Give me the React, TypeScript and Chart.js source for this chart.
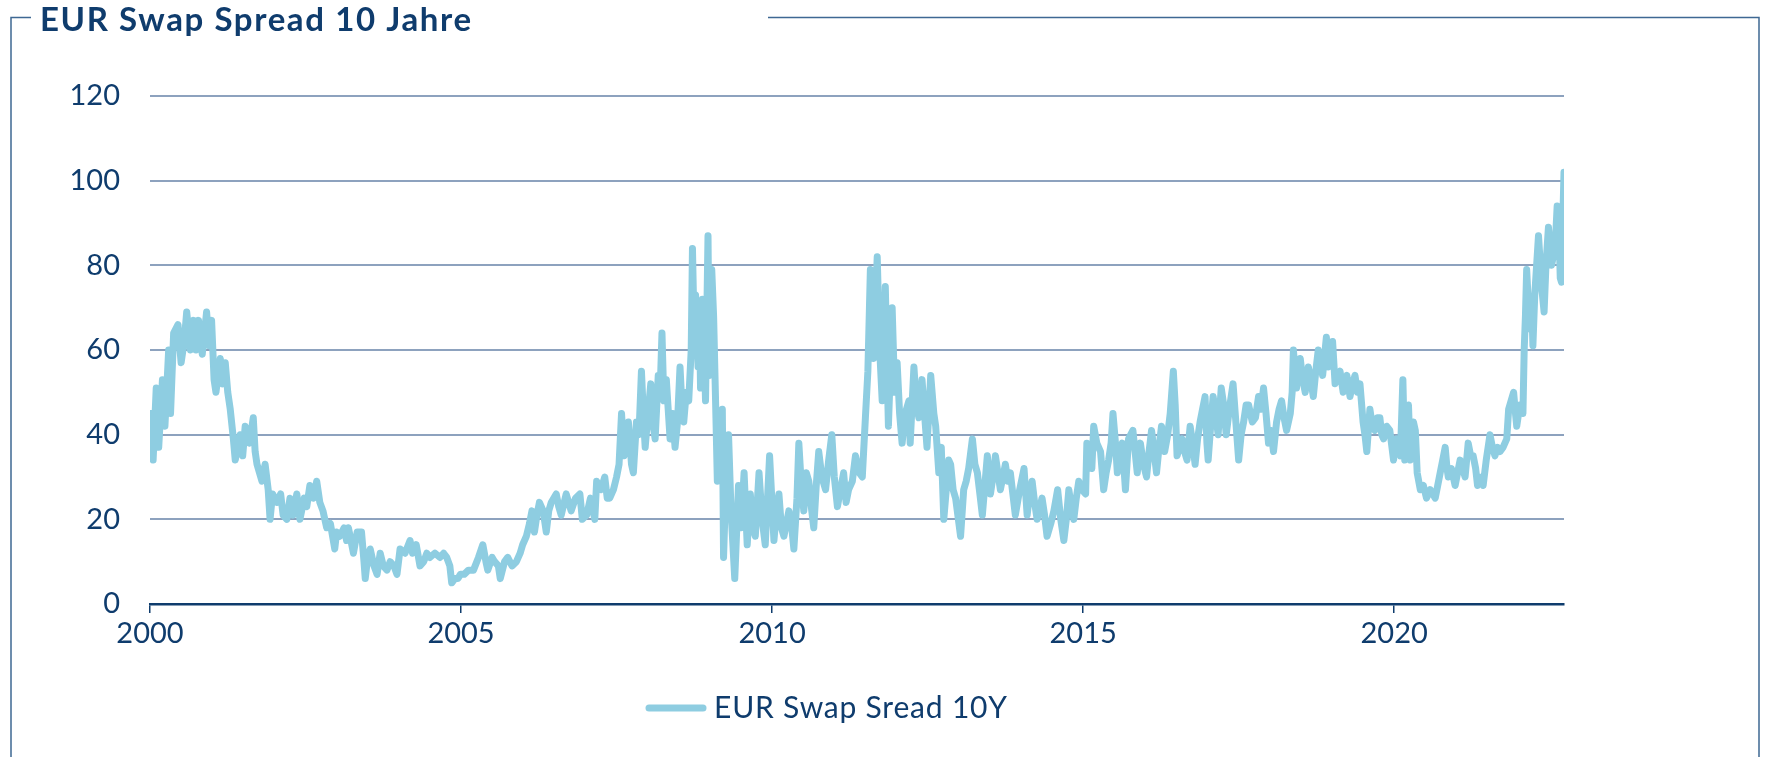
import { useEffect, useRef } from 'react';
import { Chart, registerables } from 'chart.js';

Chart.register(...registerables);

const TITLE = 'EUR Swap Spread 10 Jahre';
const SERIES_LABEL = 'EUR Swap Sread 10Y';
const xTickYears = [2000, 2005, 2010, 2015, 2020];
const yTickValues = [0, 20, 40, 60, 80, 100, 120];
const X_MIN = 2000;
const X_MAX = 2022.73;

// [decimal year, spread in bp]
const seg2000_2004: [number, number][] = [
  [2000.0, 35], [2000.02, 45], [2000.05, 34], [2000.1, 51], [2000.14, 37], [2000.2, 53], [2000.24, 42], [2000.3, 60],
  [2000.33, 45], [2000.38, 64], [2000.45, 66], [2000.5, 57], [2000.55, 62], [2000.59, 69], [2000.65, 60], [2000.7, 67],
  [2000.74, 60], [2000.78, 67], [2000.84, 59], [2000.91, 69], [2000.95, 61], [2000.99, 67],
  [2001.03, 53], [2001.06, 50], [2001.13, 58], [2001.17, 52], [2001.21, 57], [2001.25, 50], [2001.29, 46], [2001.34, 39],
  [2001.37, 34], [2001.4, 36], [2001.45, 40], [2001.49, 35], [2001.53, 42], [2001.6, 38], [2001.66, 44], [2001.69, 36],
  [2001.72, 33], [2001.76, 31], [2001.8, 29], [2001.85, 33], [2001.9, 27], [2001.93, 20], [2001.97, 26],
  [2002.04, 24], [2002.1, 26], [2002.14, 21], [2002.2, 20], [2002.25, 25], [2002.3, 21], [2002.36, 26], [2002.41, 20],
  [2002.48, 25], [2002.52, 23], [2002.57, 28], [2002.63, 25], [2002.68, 29], [2002.73, 24], [2002.78, 22], [2002.84, 18],
  [2002.9, 19], [2002.97, 13],
  [2003.0, 17], [2003.05, 16], [2003.12, 18], [2003.16, 15], [2003.19, 18], [2003.23, 15], [2003.27, 12], [2003.33, 17],
  [2003.4, 17], [2003.44, 10], [2003.46, 6], [2003.5, 11], [2003.54, 13], [2003.6, 9], [2003.65, 7], [2003.7, 12],
  [2003.75, 9], [2003.81, 8], [2003.86, 10], [2003.92, 9], [2003.97, 7],
  [2004.02, 13], [2004.1, 12], [2004.18, 15], [2004.22, 12], [2004.28, 14], [2004.34, 9], [2004.4, 10], [2004.45, 12],
  [2004.5, 11], [2004.58, 12], [2004.66, 11], [2004.72, 12], [2004.77, 11], [2004.82, 9], [2004.85, 5], [2004.9, 6],
  [2004.95, 6], [2004.99, 7],
];

const seg2005_2009: [number, number][] = [
  [2005.05, 7], [2005.12, 8], [2005.2, 8], [2005.28, 11], [2005.35, 14], [2005.4, 10], [2005.43, 8], [2005.5, 11],
  [2005.54, 10], [2005.6, 9], [2005.63, 6], [2005.7, 10], [2005.75, 11], [2005.82, 9], [2005.89, 10], [2005.95, 12],
  [2005.99, 14],
  [2006.05, 16], [2006.1, 19], [2006.14, 22], [2006.18, 17], [2006.22, 21], [2006.26, 24], [2006.32, 22], [2006.37, 17],
  [2006.41, 22], [2006.45, 24], [2006.53, 26], [2006.57, 23], [2006.61, 21], [2006.69, 26], [2006.73, 24], [2006.77, 22],
  [2006.84, 25], [2006.91, 26], [2006.95, 20],
  [2007.02, 21], [2007.08, 25], [2007.15, 20], [2007.18, 29], [2007.25, 27], [2007.31, 30], [2007.35, 25], [2007.39, 25],
  [2007.45, 27], [2007.5, 30], [2007.54, 33], [2007.58, 45], [2007.62, 35], [2007.66, 40], [2007.69, 43], [2007.74, 33],
  [2007.77, 31], [2007.82, 43], [2007.86, 40], [2007.9, 55], [2007.93, 45], [2007.96, 37],
  [2008.0, 44], [2008.05, 52], [2008.09, 42], [2008.12, 39], [2008.17, 54], [2008.2, 50], [2008.23, 64], [2008.26, 48],
  [2008.3, 53], [2008.33, 46], [2008.36, 39], [2008.4, 45], [2008.44, 37], [2008.48, 43], [2008.52, 56], [2008.55, 47],
  [2008.58, 43], [2008.62, 50], [2008.66, 48], [2008.7, 60], [2008.72, 84], [2008.75, 62], [2008.77, 73], [2008.79, 66],
  [2008.81, 56], [2008.83, 70], [2008.85, 51], [2008.88, 72], [2008.91, 60], [2008.93, 48], [2008.97, 87], [2008.99, 54],
  [2009.01, 72], [2009.03, 79], [2009.06, 68], [2009.09, 49], [2009.12, 29], [2009.16, 40], [2009.2, 46], [2009.22, 11],
  [2009.26, 30], [2009.3, 40], [2009.34, 22], [2009.4, 6], [2009.43, 17], [2009.46, 28], [2009.5, 18], [2009.55, 31],
  [2009.6, 14], [2009.65, 26], [2009.69, 18], [2009.73, 16], [2009.79, 31], [2009.84, 20], [2009.89, 14], [2009.96, 35],
];

const seg2010_2014: [number, number][] = [
  [2010.03, 15], [2010.07, 22], [2010.11, 26], [2010.15, 18], [2010.19, 16], [2010.27, 22], [2010.31, 19], [2010.35, 13],
  [2010.4, 25], [2010.43, 38], [2010.47, 28], [2010.51, 22], [2010.55, 31], [2010.59, 29], [2010.63, 23], [2010.67, 18],
  [2010.71, 28], [2010.75, 36], [2010.8, 30], [2010.86, 27], [2010.91, 34], [2010.96, 40],
  [2011.0, 30], [2011.05, 23], [2011.1, 27], [2011.15, 31], [2011.19, 24], [2011.23, 27], [2011.29, 29], [2011.34, 35],
  [2011.4, 31], [2011.45, 30], [2011.5, 44], [2011.54, 55], [2011.58, 79], [2011.61, 62], [2011.63, 58], [2011.66, 70],
  [2011.69, 82], [2011.73, 60], [2011.77, 48], [2011.8, 60], [2011.82, 75], [2011.85, 55], [2011.87, 42], [2011.9, 55],
  [2011.93, 70], [2011.97, 50],
  [2012.01, 57], [2012.05, 45], [2012.09, 38], [2012.14, 45], [2012.2, 48], [2012.22, 38], [2012.28, 56], [2012.32, 47],
  [2012.36, 44], [2012.41, 53], [2012.45, 45], [2012.49, 37], [2012.55, 54], [2012.6, 45], [2012.63, 42], [2012.68, 31],
  [2012.72, 37], [2012.76, 20], [2012.8, 27], [2012.84, 34], [2012.87, 33], [2012.91, 27], [2012.95, 25],
  [2013.03, 16], [2013.08, 27], [2013.12, 29], [2013.16, 32], [2013.22, 39], [2013.26, 33], [2013.3, 31], [2013.34, 26],
  [2013.38, 21], [2013.42, 28], [2013.46, 35], [2013.51, 26], [2013.55, 30], [2013.59, 35], [2013.63, 31], [2013.67, 27],
  [2013.75, 33], [2013.79, 29], [2013.83, 31], [2013.87, 26], [2013.91, 21], [2013.98, 27],
  [2014.05, 32], [2014.1, 21], [2014.14, 26], [2014.18, 29], [2014.22, 24], [2014.26, 20], [2014.34, 25], [2014.38, 21],
  [2014.42, 16], [2014.48, 19], [2014.53, 22], [2014.59, 27], [2014.64, 20], [2014.69, 15], [2014.73, 20], [2014.77, 27],
  [2014.81, 23], [2014.85, 20], [2014.89, 25], [2014.93, 29], [2014.98, 27],
];

const seg2015_2019: [number, number][] = [
  [2015.04, 26], [2015.06, 38], [2015.1, 34], [2015.14, 32], [2015.17, 42], [2015.22, 38], [2015.28, 36], [2015.33, 27],
  [2015.37, 31], [2015.41, 34], [2015.45, 38], [2015.48, 45], [2015.52, 38], [2015.55, 31], [2015.59, 35], [2015.63, 38],
  [2015.68, 27], [2015.73, 39], [2015.8, 41], [2015.87, 31], [2015.92, 38], [2015.97, 33],
  [2016.02, 30], [2016.06, 36], [2016.1, 41], [2016.14, 36], [2016.18, 31], [2016.22, 37], [2016.26, 42], [2016.31, 36],
  [2016.36, 40], [2016.4, 45], [2016.45, 55], [2016.48, 47], [2016.51, 35], [2016.55, 37], [2016.59, 39], [2016.63, 36],
  [2016.67, 34], [2016.72, 42], [2016.76, 38], [2016.8, 33], [2016.84, 39], [2016.88, 43], [2016.92, 46], [2016.96, 49],
  [2016.99, 38],
  [2017.01, 34], [2017.05, 42], [2017.09, 49], [2017.13, 45], [2017.17, 40], [2017.22, 51], [2017.26, 47], [2017.3, 40],
  [2017.35, 46], [2017.41, 52], [2017.45, 44], [2017.5, 34], [2017.54, 40], [2017.58, 43], [2017.62, 47], [2017.66, 47],
  [2017.72, 43], [2017.77, 44], [2017.82, 49], [2017.86, 46], [2017.9, 51], [2017.94, 45], [2017.98, 38],
  [2018.02, 41], [2018.06, 36], [2018.11, 43], [2018.15, 46], [2018.19, 48], [2018.23, 44], [2018.27, 41], [2018.33, 45],
  [2018.36, 50], [2018.38, 60], [2018.43, 51], [2018.46, 55], [2018.49, 58], [2018.53, 53], [2018.57, 50], [2018.62, 56],
  [2018.66, 53], [2018.7, 49], [2018.74, 55], [2018.78, 60], [2018.82, 57], [2018.85, 54], [2018.91, 63], [2018.94, 56],
  [2018.98, 59],
  [2019.01, 62], [2019.05, 52], [2019.09, 54], [2019.13, 55], [2019.18, 50], [2019.24, 54], [2019.29, 49], [2019.33, 52],
  [2019.37, 54], [2019.41, 50], [2019.45, 52], [2019.5, 43], [2019.53, 40], [2019.56, 36], [2019.61, 46], [2019.65, 42],
  [2019.69, 41], [2019.73, 44], [2019.77, 44], [2019.8, 40], [2019.83, 39], [2019.88, 42], [2019.93, 41], [2019.99, 34],
];

const seg2020_2022: [number, number][] = [
  [2020.04, 39], [2020.1, 35], [2020.14, 53], [2020.17, 34], [2020.2, 45], [2020.23, 47], [2020.26, 34], [2020.31, 43],
  [2020.34, 41], [2020.37, 31], [2020.42, 27], [2020.47, 28], [2020.52, 25], [2020.58, 27], [2020.62, 26], [2020.66, 25],
  [2020.7, 28], [2020.74, 31], [2020.78, 34], [2020.82, 37], [2020.85, 32], [2020.87, 30], [2020.92, 32], [2020.98, 28],
  [2021.02, 31], [2021.06, 34], [2021.1, 32], [2021.14, 30], [2021.19, 38], [2021.23, 35], [2021.27, 35], [2021.31, 32],
  [2021.34, 28], [2021.38, 30], [2021.43, 28], [2021.48, 34], [2021.54, 40], [2021.58, 37], [2021.62, 35], [2021.66, 37],
  [2021.7, 36], [2021.75, 37], [2021.81, 39], [2021.84, 46], [2021.88, 48], [2021.92, 50], [2021.95, 45], [2021.97, 42],
  [2022.02, 47], [2022.07, 45], [2022.09, 60], [2022.11, 68], [2022.13, 79], [2022.16, 70], [2022.18, 65], [2022.21, 72],
  [2022.23, 61], [2022.26, 73], [2022.29, 80], [2022.32, 87], [2022.35, 80], [2022.37, 75], [2022.41, 69], [2022.44, 80],
  [2022.48, 89], [2022.51, 84], [2022.53, 80], [2022.57, 83], [2022.59, 85], [2022.62, 94], [2022.65, 88], [2022.67, 77],
  [2022.69, 76], [2022.71, 90], [2022.73, 102],
];

const NAVY = '#0f3c6d';
const LINE = '#8ecde1';
const GRID = '#8da2be';
const FRAME = '#3e6893';
const FONT = 'Lato, "Noto Sans", sans-serif';

export default function App() {
  const ref = useRef<HTMLCanvasElement>(null);

  useEffect(() => {
    const canvas = ref.current;
    if (!canvas) return;

    const points = [...seg2000_2004, ...seg2005_2009, ...seg2010_2014, ...seg2015_2019, ...seg2020_2022]
      .sort((a, b) => a[0] - b[0])
      .map(([x, y]) => ({ x, y }));

    const decor = {
      id: 'decor',
      afterDraw(chart: any) {
        const ctx = chart.ctx as any;
        ctx.save();
        // frame
        ctx.strokeStyle = FRAME;
        ctx.lineWidth = 1.5;
        ctx.beginPath();
        ctx.moveTo(11, 757);
        ctx.lineTo(11, 17.5);
        ctx.lineTo(31, 17.5);
        ctx.moveTo(768, 17.5);
        ctx.lineTo(1759, 17.5);
        ctx.lineTo(1759, 757);
        ctx.stroke();
        // title
        ctx.fillStyle = NAVY;
        ctx.font = `bold 33px ${FONT}`;
        ctx.letterSpacing = '1.6px';
        ctx.textBaseline = 'middle';
        ctx.textAlign = 'left';
        ctx.fillText(TITLE, 40, 20);
        // legend
        const ds = chart.data.datasets[0];
        ctx.strokeStyle = ds.borderColor;
        ctx.lineWidth = ds.borderWidth;
        ctx.lineCap = 'round';
        ctx.beginPath();
        ctx.moveTo(649, 708);
        ctx.lineTo(703, 708);
        ctx.stroke();
        ctx.fillStyle = NAVY;
        ctx.font = `30px ${FONT}`;
        ctx.letterSpacing = '0.8px';
        ctx.fillText(ds.label, 714, 708);
        ctx.restore();
      },
    };

    const chart = new Chart(canvas, {
      type: 'line',
      data: {
        datasets: [
          {
            label: SERIES_LABEL,
            data: points,
            borderColor: LINE,
            backgroundColor: LINE,
            borderWidth: 7,
            pointRadius: 0,
            tension: 0,
            fill: false,
            borderJoinStyle: 'round',
            borderCapStyle: 'round',
          },
        ],
      },
      options: {
        responsive: false,
        animation: false,
        devicePixelRatio: 1,
        parsing: false,
        normalized: true,
        layout: { padding: { left: 0, right: 207, top: 96, bottom: 0 } },
        plugins: {
          legend: { display: false },
          tooltip: { enabled: false },
          title: { display: false },
        },
        scales: {
          x: {
            type: 'linear',
            position: 'bottom',
            min: X_MIN,
            max: X_MAX,
            afterBuildTicks: (scale: any) => {
              scale.ticks = xTickYears.map((v) => ({ value: v }));
            },
            afterFit: (scale: any) => {
              scale.height = 153;
            },
            ticks: {
              callback: (v: any) => String(v),
              color: NAVY,
              font: { family: FONT, size: 29 },
              padding: 3,
              maxRotation: 0,
              autoSkip: false,
            },
            grid: {
              drawOnChartArea: false,
              drawTicks: true,
              tickLength: 9,
              color: NAVY,
              lineWidth: 1.5,
            },
            border: { display: true, color: NAVY, width: 2.5 },
          },
          y: {
            type: 'linear',
            position: 'left',
            min: 0,
            max: 120,
            afterBuildTicks: (scale: any) => {
              scale.ticks = yTickValues.map((v) => ({ value: v }));
            },
            afterFit: (scale: any) => {
              scale.width = 150;
            },
            ticks: {
              callback: (v: any) => String(v),
              color: NAVY,
              font: { family: FONT, size: 29 },
              padding: 30,
            },
            grid: {
              color: GRID,
              lineWidth: 2,
              drawTicks: false,
            },
            border: { display: false },
          },
        },
      },
      plugins: [decor],
    } as any);

    return () => chart.destroy();
  }, []);

  return (
    <div style={{ position: 'absolute', left: 0, top: 0, width: 1771, height: 757, background: '#ffffff' }}>
      <canvas ref={ref} width={1771} height={757} style={{ display: 'block', width: 1771, height: 757 }} />
    </div>
  );
}
